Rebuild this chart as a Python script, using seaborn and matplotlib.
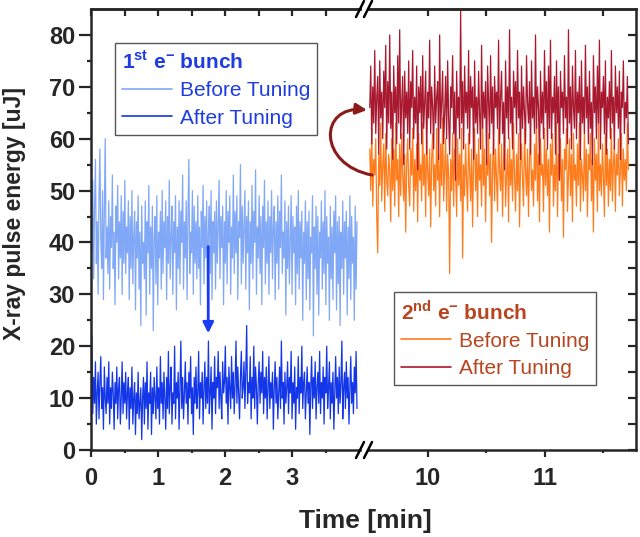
import numpy as np
import pandas as pd
import matplotlib
matplotlib.use("Agg")
import matplotlib.pyplot as plt
import seaborn as sns
from matplotlib.lines import Line2D
from matplotlib.patches import FancyArrowPatch
from matplotlib.path import Path
from matplotlib.ticker import FixedLocator

# time windows of the two recordings [min]
t_first = (0.0, 3.97)
t_second = (9.5, 11.72)

# 1st electron bunch, pulse energy [uJ]
bunch1_before = [
    45, 38, 52, 33, 47, 56, 36, 44, 30, 49, 58, 41, 35, 50, 29, 46, 60, 37, 43, 34,
    48, 31, 45, 39, 53, 35, 42, 28, 47, 40, 51, 33, 44, 37, 49, 30, 46, 36, 52, 34,
    43, 38, 48, 29, 45, 35, 50, 32, 41, 46, 27, 44, 37, 49, 31, 42, 24, 47, 36, 40,
    33, 48, 26, 44, 38, 51, 30, 43, 35, 47, 23, 41, 45, 32, 49, 28, 42, 37, 46, 31,
    50, 34, 44, 39, 48, 29, 45, 36, 52, 33, 41, 47, 30, 44, 38, 49, 27, 43, 35, 48,
    32, 46, 40, 53, 31, 44, 37, 48, 29, 45, 56, 34, 42, 38, 50, 30, 47, 36, 44, 33,
    49, 35, 43, 28, 46, 39, 51, 32, 45, 37, 48, 30, 42, 47, 34, 50, 29, 44, 38, 46,
    31, 48, 36, 43, 52, 33, 45, 39, 47, 28, 44, 36, 50, 32, 46, 40, 49, 30, 43, 37,
    53, 34, 46, 38, 49, 29, 44, 41, 55, 32, 47, 36, 43, 50, 31, 45, 38, 48, 27, 44,
    36, 51, 33, 46, 40, 54, 30, 43, 37, 49, 34, 45, 28, 47, 39, 52, 32, 44, 36, 48,
    30, 45, 38, 50, 33, 43, 47, 29, 44, 36, 49, 31, 46, 39, 53, 34, 42, 37, 48, 26,
    44, 35, 47, 32, 41, 49, 30, 45, 38, 43, 28, 47, 34, 50, 31, 44, 37, 46, 25, 42,
    36, 48, 29, 44, 33, 46, 27, 41, 38, 49, 22, 43, 35, 47, 30, 45, 26, 42, 37, 48,
    31, 44, 34, 50, 28, 45, 36, 41, 25, 47, 33, 43, 29, 46, 38, 49, 27, 44, 32, 45,
    24, 42, 35, 48, 30, 44, 37, 46, 26, 43, 33, 49, 29, 45, 36, 41, 25, 47, 31, 44,
]
bunch1_after = [
    12, 22, 7, 14, 9, 17, 5, 11, 15, 6, 13, 18, 8, 12, 4, 16, 10, 7, 14, 9,
    17, 5, 12, 8, 15, 11, 4, 13, 9, 16, 6, 12, 14, 5, 10, 17, 7, 13, 9, 15,
    6, 11, 14, 4, 12, 8, 16, 5, 10, 13, 3, 11, 7, 15, 6, 9, 12, 2, 10, 14,
    5, 13, 8, 17, 4, 11, 9, 15, 3, 12, 7, 14, 10, 6, 16, 8, 12, 5, 18, 9,
    13, 6, 15, 10, 4, 14, 8, 19, 7, 12, 16, 5, 11, 9, 20, 6, 13, 10, 15, 4,
    12, 21, 8, 14, 6, 11, 17, 9, 13, 5, 15, 10, 18, 7, 12, 3, 14, 9, 16, 8,
    11, 19, 6, 13, 10, 15, 5, 12, 17, 8, 14, 9, 21, 7, 11, 16, 4, 13, 10, 18,
    7, 14, 12, 19, 8, 15, 10, 6, 17, 11, 13, 20, 9, 14, 5, 16, 12, 8, 18, 10,
    15, 7, 13, 21, 9, 16, 11, 6, 14, 19, 10, 12, 17, 8, 15, 24, 9, 13, 11, 18,
    6, 14, 10, 20, 8, 16, 12, 5, 13, 17, 9, 15, 11, 19, 7, 14, 10, 16, 6, 12,
    18, 8, 13, 10, 15, 4, 12, 17, 9, 14, 6, 11, 16, 8, 21, 10, 13, 5, 15, 9,
    12, 17, 7, 14, 11, 19, 6, 13, 9, 16, 4, 12, 10, 18, 7, 14, 11, 20, 8, 13,
    15, 6, 11, 16, 9, 13, 3, 12, 18, 8, 14, 10, 17, 6, 12, 15, 9, 19, 7, 13,
    10, 16, 5, 14, 11, 20, 8, 12, 17, 6, 13, 9, 15, 4, 11, 18, 10, 14, 7, 16,
    9, 13, 21, 6, 12, 15, 8, 17, 10, 14, 5, 12, 18, 9, 13, 7, 16, 11, 19, 8,
]

# 2nd electron bunch, pulse energy [uJ]
bunch2_before = [
    58, 50, 62, 47, 56, 53, 60, 45, 38, 57, 51, 63, 48, 55, 59, 46, 61, 52, 49, 57,
    54, 44, 60, 50, 58, 47, 63, 52, 56, 45, 59, 49, 61, 53, 48, 57, 42, 55, 60, 51,
    47, 58, 53, 62, 46, 56, 50, 59, 44, 61, 52, 55, 48, 63, 51, 57, 45, 60, 54, 49,
    58, 43, 56, 61, 50, 55, 47, 62, 52, 57, 45, 59, 51, 64, 48, 54, 60, 46, 57, 53,
    34, 56, 50, 61, 47, 58, 53, 45, 60, 51, 57, 48, 62, 37, 55, 49, 59, 52, 46, 61,
    54, 48, 58, 43, 56, 62, 50, 57, 45, 60, 52, 55, 47, 63, 51, 58, 44, 56, 53, 61,
    49, 57, 40, 55, 60, 48, 58, 52, 46, 62, 54, 50, 59, 45, 56, 61, 47, 53, 58, 44,
    60, 51, 56, 48, 63, 53, 46, 57, 50, 61, 43, 55, 59, 52, 47, 62, 54, 49, 58, 45,
    56, 61, 50, 54, 47, 59, 52, 64, 48, 57, 44, 60, 53, 55, 46, 62, 51, 58, 49, 56,
    42, 59, 53, 61, 47, 55, 50, 63, 45, 57, 52, 60, 48, 56, 41, 58, 54, 62, 46, 53,
    60, 49, 57, 44, 61, 52, 55, 47, 59, 51, 63, 46, 56, 53, 48, 62, 50, 58, 45, 57,
    54, 61, 48, 56, 42, 60, 52, 57, 46, 63, 50, 55, 49, 59, 53, 45, 61, 51, 58, 47,
    56, 50, 62, 48, 55, 59, 46, 57, 53, 60, 49, 54, 61, 47, 58, 52, 56, 50, 63, 54,
]
bunch2_after = [
    66, 74, 59, 70, 63, 77, 61, 68, 72, 57, 75, 64, 69, 60, 73, 66, 78, 58, 71, 63,
    80, 62, 69, 56, 74, 65, 70, 59, 76, 63, 81, 60, 67, 72, 55, 73, 64, 69, 61, 75,
    58, 71, 66, 77, 60, 68, 63, 74, 54, 70, 65, 72, 59, 76, 62, 67, 73, 57, 69, 64,
    79, 61, 70, 66, 58, 74, 63, 68, 71, 56, 80, 62, 67, 73, 59, 65, 72, 60, 75, 64,
    57, 70, 66, 76, 61, 69, 52, 73, 64, 68, 60, 85, 63, 71, 58, 74, 65, 69, 62, 77,
    59, 72, 66, 70, 56, 75, 63, 68, 61, 73, 65, 58, 78, 62, 69, 64, 71, 55, 74, 67,
    60, 76, 63, 70, 57, 72, 66, 69, 62, 79, 59, 68, 73, 61, 67, 54, 75, 64, 70, 60,
    81, 63, 68, 58, 73, 66, 71, 61, 77, 64, 69, 56, 74, 62, 70, 65, 59, 76, 67, 63,
    71, 57, 75, 64, 68, 61, 80, 62, 70, 66, 55, 73, 63, 69, 60, 77, 65, 71, 58, 74,
    62, 79, 60, 68, 65, 72, 57, 75, 63, 70, 52, 73, 66, 69, 61, 76, 64, 68, 59, 81,
    63, 70, 58, 74, 66, 62, 77, 60, 69, 65, 72, 56, 75, 63, 68, 61, 78, 64, 70, 59,
    73, 62, 67, 55, 76, 65, 70, 60, 74, 63, 79, 58, 69, 66, 72, 61, 75, 57, 68, 64,
    71, 60, 77, 63, 68, 58, 74, 65, 70, 62, 73, 56, 69, 66, 75, 61, 67, 64, 72, 59,
]

legend_labels = ["Before Tuning", "After Tuning"]

c_b1_before = "#80a8f6"
c_b1_after = "#1236e8"
c_b2_before = "#ff7c1c"
c_b2_after = "#a8182e"
c_txt1 = "#1e3ce0"
c_txt2 = "#b8451f"

W, H = 640, 537


def px(x, y):
    # pixel position (from top-left) -> figure fraction
    return (x / W, 1 - y / H)


def make_df(vals, window, name):
    return pd.DataFrame({"Time": np.linspace(window[0], window[1], len(vals)),
                         "Energy": vals, "Series": name})


sns.set_theme(style="ticks")
plt.rcParams["font.family"] = ["Liberation Sans", "DejaVu Sans"]
plt.rcParams["font.weight"] = "bold"
plt.rcParams["mathtext.fontset"] = "custom"
plt.rcParams["mathtext.rm"] = "Liberation Sans"
plt.rcParams["mathtext.bf"] = "Liberation Sans:bold"

fig = plt.figure(figsize=(6.4, 5.37), dpi=100)
ax1 = fig.add_axes([91 / W, 87 / H, (360 - 91) / W, 441 / H])
ax2 = fig.add_axes([368 / W, 87 / H, (636 - 368) / W, 441 / H])

df1 = pd.concat([make_df(bunch1_before, t_first, "before"),
                 make_df(bunch1_after, t_first, "after")])
df2 = pd.concat([make_df(bunch2_before, t_second, "before"),
                 make_df(bunch2_after, t_second, "after")])

sns.lineplot(data=df1, x="Time", y="Energy", hue="Series",
             palette={"before": c_b1_before, "after": c_b1_after},
             estimator=None, sort=False, lw=0.9, legend=False, ax=ax1)
sns.lineplot(data=df2, x="Time", y="Energy", hue="Series",
             palette={"before": c_b2_before, "after": c_b2_after},
             estimator=None, sort=False, lw=0.9, legend=False, ax=ax2)

for ax in (ax1, ax2):
    ax.set_ylim(0, 85)
    ax.set_xlabel("")
    ax.set_ylabel("")
    for s in ax.spines.values():
        s.set_linewidth(1.8)
ax1.set_xlim(0, (360 - 91) / 67)
ax2.set_xlim(10 - 60 / 116.5, 10 + 208 / 116.5)
ax1.spines["right"].set_visible(False)
ax2.spines["left"].set_visible(False)

# ticks
y_major = [0, 10, 20, 30, 40, 50, 60, 70, 80]
y_minor = [5, 15, 25, 35, 45, 55, 65, 75]
x1_major, x1_minor = [0, 1, 2, 3], [0.5, 1.5, 2.5, 3.5]
x2_major, x2_minor = [10, 11], [10.5, 11.5]

ax1.yaxis.set_major_locator(FixedLocator(y_major))
ax1.yaxis.set_minor_locator(FixedLocator(y_minor))
ax1.xaxis.set_major_locator(FixedLocator(x1_major))
ax1.xaxis.set_minor_locator(FixedLocator(x1_minor))
ax1.tick_params(axis="y", which="major", direction="out", length=8.5, width=1.6,
                labelsize=17, pad=3, left=True, right=False)
ax1.tick_params(axis="y", which="minor", direction="out", length=3, width=1.6,
                left=True, right=False)

for ax in (ax1, ax2):
    ax.tick_params(axis="x", which="major", direction="out", length=5, width=1.6,
                   labelsize=17, pad=7, bottom=True, top=False)
    ax.tick_params(axis="x", which="minor", direction="out", length=2.5, width=1.6,
                   bottom=True, top=False)

ax2.yaxis.set_major_locator(FixedLocator(y_major))
ax2.yaxis.set_minor_locator(FixedLocator(y_minor))
ax2.xaxis.set_major_locator(FixedLocator(x2_major))
ax2.xaxis.set_minor_locator(FixedLocator(x2_minor))
ax2.tick_params(axis="y", which="both", direction="in", length=5.5, width=1.6,
                left=False, right=True, labelleft=False, labelright=False)

for ax, maj, mnr in ((ax1, x1_major, x1_minor), (ax2, x2_major, x2_minor)):
    top = ax.secondary_xaxis("top")
    top.xaxis.set_major_locator(FixedLocator(maj))
    top.xaxis.set_minor_locator(FixedLocator(mnr))
    top.tick_params(which="both", direction="in", length=5, width=1.6, labeltop=False)
    top.spines["top"].set_linewidth(1.8)

# axis break marks
for cx in (360, 368):
    for cy in (9, 450):
        (x0, y0), (x1, y1) = px(cx - 4, cy + 8), px(cx + 4, cy - 8)
        fig.add_artist(Line2D([x0, x1], [y0, y1], transform=fig.transFigure,
                              color="black", lw=1.8))

# labels
fig.text(*px(365, 521), "Time [min]", ha="center", va="center", fontsize=19)
fig.text(*px(15, 214), "X-ray pulse energy [uJ]", ha="center", va="center",
         rotation=90, fontsize=16.5)

# legends
leg_kw = dict(loc="upper left", bbox_transform=fig.transFigure, fancybox=False,
              edgecolor="#555555", framealpha=1, alignment="left",
              prop={"size": 15, "weight": "normal"},
              title_fontproperties={"size": 15, "weight": "bold"},
              handlelength=2.4, handletextpad=0.35, labelspacing=0.4,
              borderpad=0.35, borderaxespad=0)

leg1 = ax1.legend(handles=[Line2D([], [], color=c_b1_before, lw=1.2),
                           Line2D([], [], color=c_b1_after, lw=1.2)],
                  labels=legend_labels,
                  title=r"1$^{\mathbf{st}}$ e$^{\mathbf{-}}$ bunch",
                  bbox_to_anchor=px(115, 43), labelcolor=c_txt1, **leg_kw)
leg1.get_title().set_color(c_txt1)
leg1.get_frame().set_linewidth(1.0)

leg2 = ax2.legend(handles=[Line2D([], [], color=c_b2_before, lw=1.2),
                           Line2D([], [], color=c_b2_after, lw=1.2)],
                  labels=legend_labels,
                  title=r"2$^{\mathbf{nd}}$ e$^{\mathbf{-}}$ bunch",
                  bbox_to_anchor=px(394, 292), labelcolor=c_txt2, **leg_kw)
leg2.get_title().set_color(c_txt2)
leg2.get_frame().set_linewidth(1.0)

# arrows
ax1.annotate("", xy=(1.75, 22.5), xytext=(1.75, 39.2),
             arrowprops=dict(arrowstyle="-|>", color="#1a3cf0", lw=2,
                             mutation_scale=16, shrinkA=0, shrinkB=0))
curve = Path([px(372, 175), px(318, 165), px(318, 105), px(367, 110)],
             [Path.MOVETO, Path.CURVE4, Path.CURVE4, Path.CURVE4])
fig.add_artist(FancyArrowPatch(path=curve, arrowstyle="-|>", mutation_scale=16,
                               color="#8b1a1a", lw=2.2, transform=fig.transFigure))

fig.savefig("out.png", dpi=100)
